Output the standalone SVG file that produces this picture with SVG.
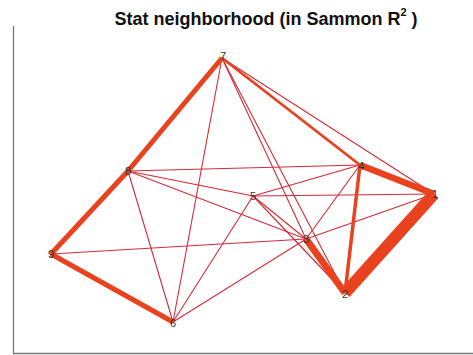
<svg xmlns="http://www.w3.org/2000/svg" width="473" height="355" viewBox="0 0 473 355">
<style>
.thin{stroke:#d42a36;stroke-width:1.1;fill:none;stroke-linecap:round}
.thick{stroke:#e8421e;fill:none;stroke-linecap:butt}
.lbl{font-family:"Liberation Sans",Arial,sans-serif;font-size:11px;fill:#333;text-anchor:middle;dominant-baseline:central}
.axis{stroke:#777;stroke-width:1.3;fill:none}
</style>
<rect width="473" height="355" fill="#fff"/>
<g id="axes">
<line class="axis" x1="13.5" y1="26" x2="13.5" y2="354"/>
<line class="axis" x1="13" y1="353.5" x2="473" y2="353.5"/>
</g>
<text x="266" y="25" font-family="Liberation Sans,Arial,sans-serif" font-weight="bold" font-size="18" text-anchor="middle" fill="#111">Stat neighborhood (in Sammon R<tspan font-size="11" dy="-9">2</tspan><tspan dy="9"> )</tspan></text>
<g id="connectors">
<line class="thin" x1="222" y1="58" x2="173" y2="322"/>
<line class="thin" x1="222" y1="58" x2="306" y2="239"/>
<line class="thin" x1="222" y1="58" x2="345" y2="293"/>
<line class="thin" x1="222" y1="58" x2="434" y2="194"/>
<line class="thin" x1="128" y1="171" x2="360" y2="165"/>
<line class="thin" x1="128" y1="171" x2="253" y2="196"/>
<line class="thin" x1="128" y1="171" x2="306" y2="239"/>
<line class="thin" x1="128" y1="171" x2="173" y2="322"/>
<line class="thin" x1="51" y1="254" x2="306" y2="239"/>
<line class="thin" x1="173" y1="322" x2="253" y2="196"/>
<line class="thin" x1="173" y1="322" x2="306" y2="239"/>
<line class="thin" x1="253" y1="196" x2="360" y2="165"/>
<line class="thin" x1="253" y1="196" x2="434" y2="194"/>
<line class="thin" x1="253" y1="196" x2="306" y2="239"/>
<line class="thin" x1="253" y1="196" x2="345" y2="293"/>
<line class="thin" x1="360" y1="165" x2="306" y2="239"/>
<line class="thin" x1="306" y1="239" x2="434" y2="194"/>
<line class="thick" x1="222" y1="58" x2="360" y2="165" stroke-width="2.8"/>
<line class="thick" x1="360" y1="165" x2="345" y2="293" stroke-width="3.5"/>
<line class="thick" x1="222" y1="58" x2="128" y2="171" stroke-width="5"/>
<line class="thick" x1="128" y1="171" x2="51" y2="254" stroke-width="5"/>
<line class="thick" x1="51" y1="254" x2="173" y2="322" stroke-width="5"/>
<line class="thick" x1="360" y1="165" x2="434" y2="194" stroke-width="6.5"/>
<line class="thick" x1="306" y1="239" x2="345" y2="293" stroke-width="7"/>
<line class="thick" x1="434" y1="194" x2="345" y2="293" stroke-width="12" stroke-linejoin="round"/>
</g>
<g id="node1"><text class="lbl" x="435" y="194">1</text></g>
<g id="node2"><text class="lbl" x="345" y="294">2</text></g>
<g id="node3"><text class="lbl" x="306" y="239">3</text></g>
<g id="node4"><text class="lbl" x="361" y="166">4</text></g>
<g id="node5"><text class="lbl" x="253" y="196">5</text></g>
<g id="node6"><text class="lbl" x="173" y="323">6</text></g>
<g id="node7"><text class="lbl" x="223" y="56">7</text></g>
<g id="node8"><text class="lbl" x="128" y="171">8</text></g>
<g id="node9"><text class="lbl" x="51" y="254">9</text></g>
</svg>
